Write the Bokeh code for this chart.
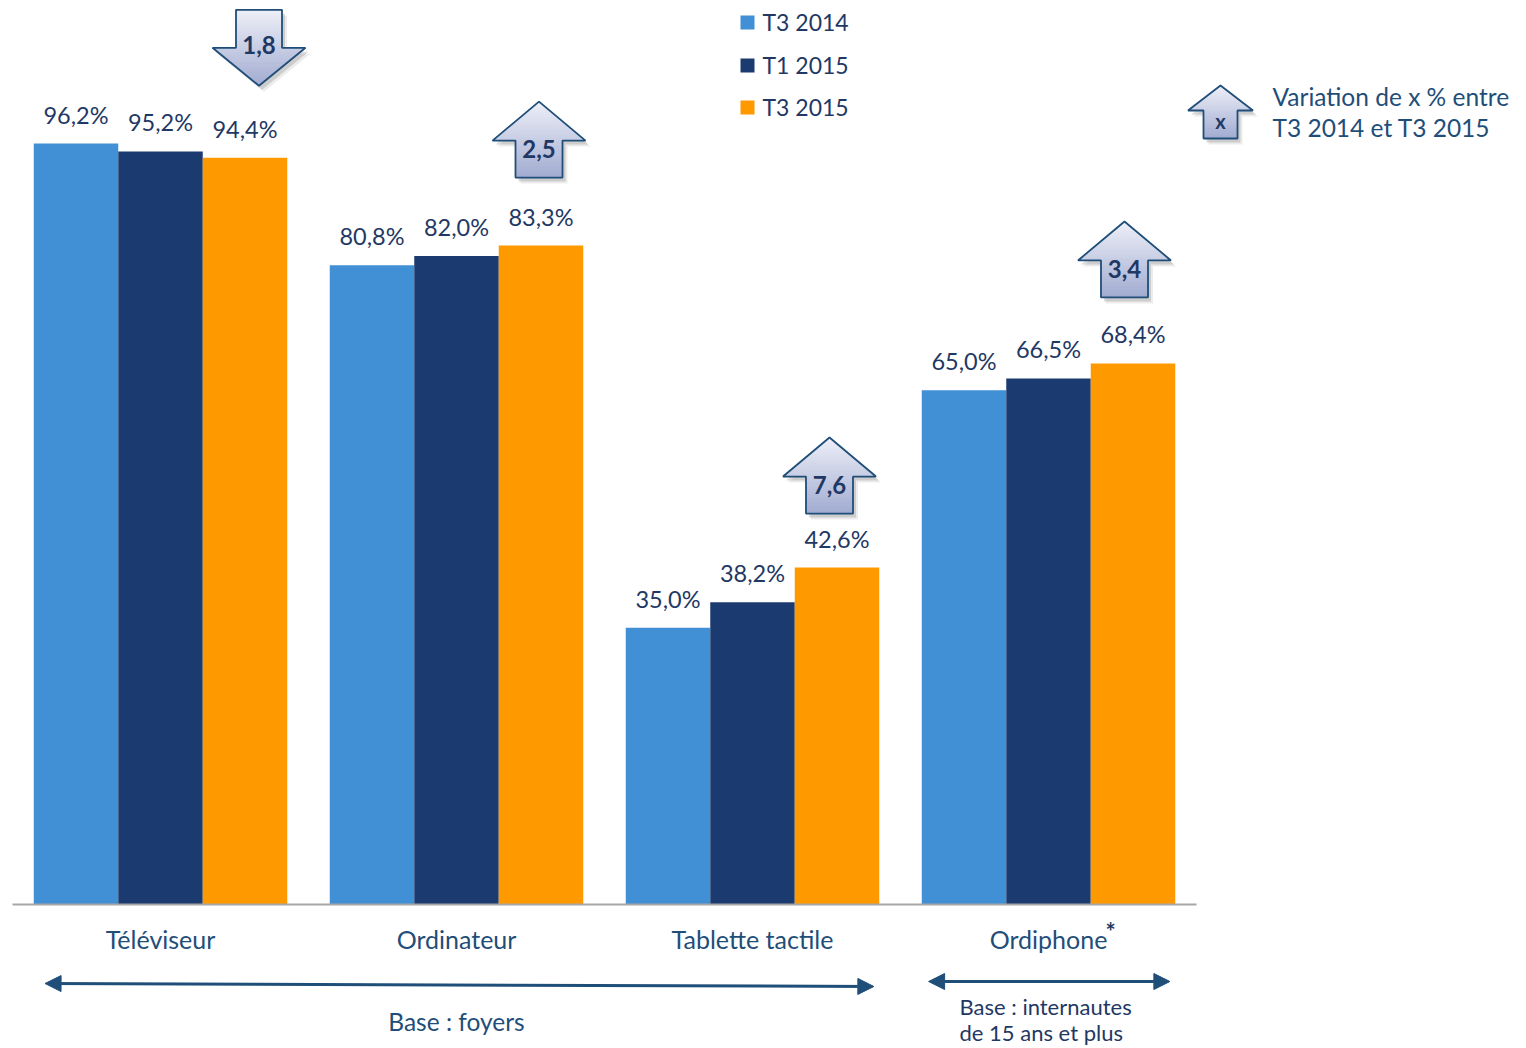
from bokeh.plotting import figure
from bokeh.models import Range1d, Arrow, NormalHead
from bokeh.core.properties import value
from bokeh.embed import file_html
from bokeh.resources import INLINE

# ---------------- data ----------------
categories = ["Téléviseur", "Ordinateur", "Tablette tactile", "Ordiphone"]
series_names = ["T3 2014", "T1 2015", "T3 2015"]
t3_2014 = [96.2, 80.8, 35.0, 65.0]
t1_2015 = [95.2, 82.0, 38.2, 66.5]
t3_2015 = [94.4, 83.3, 42.6, 68.4]
variation = [-1.8, 2.5, 7.6, 3.4]   # points between T3 2014 and T3 2015

# ---------------- style / layout ----------------
FONT = "Lato"
C_LIGHT = "#418FD4"
C_NAVY = "#1B3A6F"
C_ORANGE = "#FF9900"
TXT = "#1F3864"
TXT2 = "#1F4E79"
ARW = "#1F4E79"

W, H = 1518, 1048
PX_GROUP = 296.0    # px per category
PX_PCT = 7.91       # px per percentage point
GX0, GY0 = 160.0, 904.0   # px of group 0 centre / baseline
BAR_W = 84.5 / PX_GROUP
offsets = [-BAR_W, 0.0, BAR_W]


def dx(px):
    return (px - GX0) / PX_GROUP


def dy(py):
    return (GY0 - py) / PX_PCT


p = figure(width=W, height=H, output_backend="svg", toolbar_location=None,
           x_range=Range1d(dx(0), dx(W)), y_range=Range1d(dy(H), dy(0)),
           x_axis_type=None, y_axis_type=None, min_border=0)
p.outline_line_color = None
p.grid.visible = False
p.background_fill_color = "white"
p.border_fill_color = "white"

series = [t3_2014, t1_2015, t3_2015]
colors = [C_LIGHT, C_NAVY, C_ORANGE]
idx = list(range(len(categories)))

# bars
for s, off, col in zip(series, offsets, colors):
    xs = [i + off for i in idx]
    p.vbar(x=xs, top=s, bottom=0, width=BAR_W, fill_color=col, line_color=None)
    p.text(x=xs, y=s, text=[("%.1f" % v).replace(".", ",") + "%" for v in s],
           text_font=value(FONT), text_font_size="23.5px", text_color=TXT,
           text_align="center", text_baseline="middle", y_offset=-29)

# baseline
p.segment(x0=[-0.5], y0=[0], x1=[len(categories) - 0.5], y1=[0],
          line_color="#A6A6A6", line_width=2)

# category labels
p.text(x=idx, y=[0] * len(idx), text=categories, text_font=value(FONT),
       text_font_size="25px", text_color=TXT2, text_align="center",
       text_baseline="middle", y_offset=34)
p.text(x=[3], y=[0], text=["*"], text_font=value(FONT), text_font_size="24px",
       text_color=TXT, text_font_style="bold", text_align="center",
       text_baseline="middle", x_offset=62, y_offset=27)

# ---------------- block arrows ----------------
TOPC = (0xEE, 0xF0, 0xF8)
BOTC = (0xA2, 0xAC, 0xD1)


def mix(t):
    return "#%02x%02x%02x" % tuple(int(round(a + (b - a) * t)) for a, b in zip(TOPC, BOTC))


def block_arrow(cx, y_top, up, head_hw, head_h, shaft_hw, shaft_l, label, label_y, fsize):
    total = head_h + shaft_l
    if up:
        tip = y_top
        base = y_top + head_h
        bottom = base + shaft_l
        outline = [(cx, tip), (cx + head_hw, base), (cx + shaft_hw, base), (cx + shaft_hw, bottom),
                   (cx - shaft_hw, bottom), (cx - shaft_hw, base), (cx - head_hw, base)]
        regions = [(tip, base, lambda y: head_hw * (y - tip) / head_h),
                   (base, bottom, lambda y: shaft_hw)]
    else:
        base = y_top + shaft_l
        tip = base + head_h
        outline = [(cx - shaft_hw, y_top), (cx + shaft_hw, y_top), (cx + shaft_hw, base),
                   (cx + head_hw, base), (cx, tip), (cx - head_hw, base), (cx - shaft_hw, base)]
        regions = [(y_top, base, lambda y: shaft_hw),
                   (base, tip, lambda y: head_hw * (tip - y) / head_h)]
    # shadow
    for sh, al in [((5, 6), 0.12), ((3, 4), 0.22)]:
        p.patch([dx(x + sh[0]) for x, _ in outline], [dy(y + sh[1]) for _, y in outline],
                fill_color="#606060", fill_alpha=al, line_color=None)
    # gradient strips
    sxs, sys, scs = [], [], []
    for (ya, yb, wf) in regions:
        n = max(2, int((yb - ya) / 2.5))
        for k in range(n):
            y1 = ya + (yb - ya) * k / n
            y2 = ya + (yb - ya) * (k + 1) / n
            w1, w2 = wf(y1), wf(y2)
            y2e = min(y2 + 0.6, yb)
            pts = [(cx - w1, y1), (cx + w1, y1), (cx + w2, y2e), (cx - w2, y2e)]
            sxs.append([dx(x) for x, _ in pts])
            sys.append([dy(y) for _, y in pts])
            scs.append(mix(((y1 + y2) / 2 - y_top) / total))
    p.patches(sxs, sys, fill_color=scs, line_color=scs, line_width=0.6)
    # outline
    p.patch([dx(x) for x, _ in outline], [dy(y) for _, y in outline],
            fill_color=None, line_color=ARW, line_width=1.8)
    p.text(x=[dx(cx)], y=[dy(label_y)], text=[label], text_font=value(FONT),
           text_font_size=fsize, text_font_style="bold", text_color=TXT,
           text_align="center", text_baseline="middle")


arrow_shift_px = [14, -2, -7.5, -8.5]
arrow_gap_px = [72, 68, 54, 66]
for i, var in enumerate(variation):
    cx = GX0 + PX_GROUP * (i + offsets[2]) + arrow_shift_px[i]
    bar_top = GY0 - PX_PCT * t3_2015[i]
    lab = ("%.1f" % abs(var)).replace(".", ",")
    if var < 0:
        tip = bar_top - arrow_gap_px[i]
        y_top = tip - 76
        block_arrow(cx, y_top, False, 46.5, 38, 23, 38, lab, y_top + 35, "24px")
    else:
        bottom = bar_top - arrow_gap_px[i]
        y_top = bottom - 76
        block_arrow(cx, y_top, True, 46.5, 39, 23.5, 37, lab, y_top + 47.5, "24px")

# legend of the arrows
block_arrow(1220, 85, True, 32.5, 25, 17, 28, "x", 120, "20px")
p.text(x=[dx(1272)] * 2, y=[dy(96), dy(127)],
       text=["Variation de x % entre", "T3 2014 et T3 2015"],
       text_font=value(FONT), text_font_size="24.5px", text_color=TXT2,
       text_align="left", text_baseline="middle")

# series legend
leg_y = [22, 65, 107]
p.scatter(x=[dx(747)] * 3, y=[dy(v) for v in leg_y], marker="square", size=14,
          fill_color=colors, line_color=None)
p.text(x=[dx(762)] * 3, y=[dy(v - 1) for v in leg_y], text=series_names,
       text_font=value(FONT), text_font_size="23px", text_color=TXT,
       text_align="left", text_baseline="middle")

# base arrows
for xs, xe, ys, ye in [(0 - 0.39, 2 + 0.41, dy(983), dy(986)),
                       (3 - 0.405, 3 + 0.41, dy(981), dy(981))]:
    p.add_layout(Arrow(x_start=xs, y_start=ys, x_end=xe, y_end=ye,
                       line_color=ARW, line_width=3,
                       start=NormalHead(size=16, fill_color=ARW, line_color=ARW),
                       end=NormalHead(size=16, fill_color=ARW, line_color=ARW)))

p.text(x=[1.0], y=[dy(1021)], text=["Base : foyers"], text_font=value(FONT),
       text_font_size="24.5px", text_color=TXT2, text_align="center", text_baseline="middle")
p.text(x=[dx(959)] * 2, y=[dy(1006), dy(1032)],
       text=["Base : internautes", "de 15 ans et plus"], text_font=value(FONT),
       text_font_size="22px", text_color=TXT, text_align="left", text_baseline="middle")

open("out.html", "w").write(file_html(p, INLINE))
